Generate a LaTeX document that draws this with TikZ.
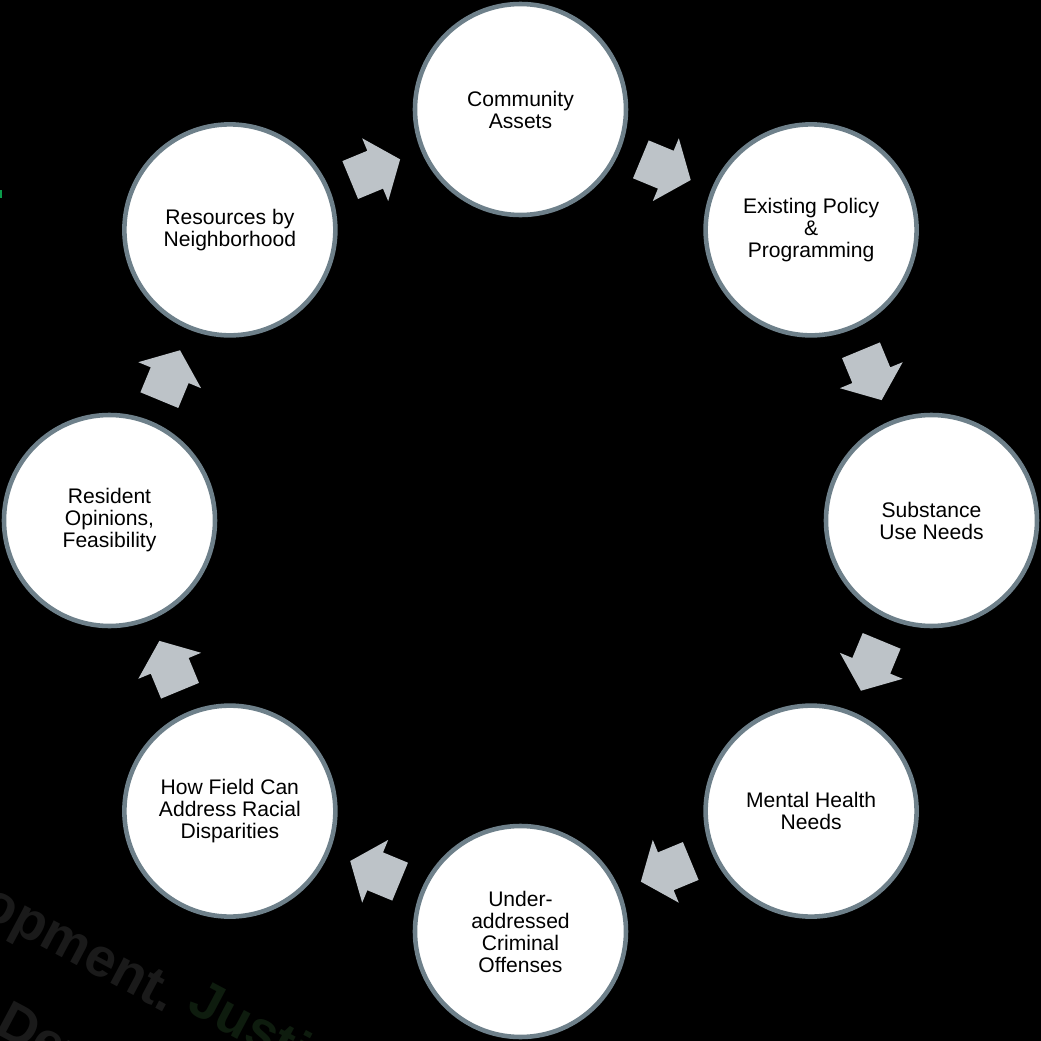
\documentclass[tikz,border=0pt]{standalone}
\usepackage{fontspec}
\setmainfont{Liberation Sans}
\usetikzlibrary{positioning}
\definecolor{ringgray}{HTML}{6E808A}
\definecolor{arrowgray}{HTML}{BDC3C8}
\definecolor{wmgray}{HTML}{1A1A1A}
\definecolor{wmgreen}{HTML}{0E1C0E}
\definecolor{edgegreen}{HTML}{0A9A4A}

\begin{document}
\begin{tikzpicture}[
    topic/.style={circle, draw=ringgray, line width=1.3pt, fill=white, minimum size=2.11cm, inner sep=0pt, align=center, font=\fontsize{6}{6.26}\selectfont},
    watermark/.style={font=\fontsize{15.5}{15.5}\selectfont\bfseries, rotate=-28, inner sep=0pt},
    blockarrow/.pic={\fill[arrowgray] (-0.27,-0.205) -- (0,-0.205) -- (0,-0.34) -- (0.27,0) -- (0,0.34) -- (0,0.205) -- (-0.27,0.205) -- cycle;}
]
    \clip (-5.205,-5.205) rectangle (5.205,5.205);
    \fill[black] (-5.205,-5.205) rectangle (5.205,5.205);

    % background marks
    \fill[edgegreen] (-5.205,3.23) rectangle (-5.185,3.31);
    \node[watermark, anchor=base east, text=wmgray] (wmone) at (-3.54,-4.93) {Development.};
    \node[watermark, anchor=base west, text=wmgreen] (wmtwo) at (-3.36,-4.90) {Justice};
    \node[watermark, anchor=base west, text=wmgray] (wmthree) at (-5.28,-5.12) {Development};

    % Topics
    \node[topic] (assets) at (90:4.11) {Community\\Assets};
    \node[topic] (policy) at (45:4.11) {Existing Policy\\\&\\Programming};
    \node[topic] (substance) at (0:4.11) {Substance\\Use Needs};
    \node[topic] (mental) at (-45:4.11) {Mental Health\\Needs};
    \node[topic] (offenses) at (-90:4.11) {Under-\\addressed\\Criminal\\Offenses};
    \node[topic] (racial) at (-135:4.11) {How Field Can\\Address Racial\\Disparities};
    \node[topic] (opinions) at (180:4.11) {Resident\\Opinions,\\Feasibility};
    \node[topic] (resources) at (135:4.11) {Resources by\\Neighborhood};

    % Arrows
    \foreach \from/\to in {assets/policy, policy/substance, substance/mental, mental/offenses, offenses/racial, racial/opinions, opinions/resources, resources/assets}
        \path (\from.center) -- (\to.center) pic[pos=0.5, sloped, allow upside down] {blockarrow};
\end{tikzpicture}
\end{document}
